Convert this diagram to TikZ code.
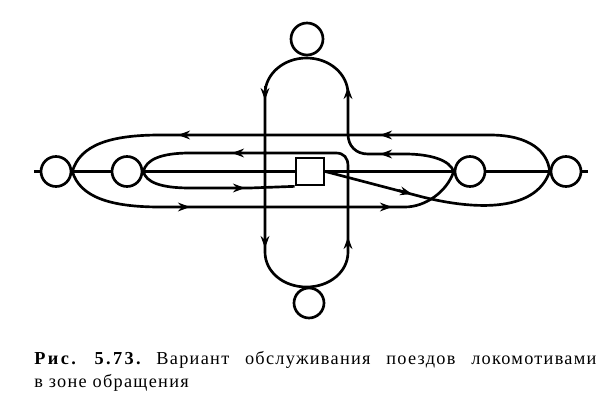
\documentclass[tikz,border=0pt]{standalone}
\usepackage{fontspec}
\setmainfont{Liberation Serif}
\usetikzlibrary{arrows.meta}
\frenchspacing
\begin{document}
\begin{tikzpicture}[x=0.025cm,y=-0.025cm,line width=1.9pt,
  stn/.style={circle,draw,fill=white,minimum size=0.75cm,inner sep=0pt},
  bigstn/.style={stn,minimum size=0.8cm},
  depot/.style={draw,fill=white,minimum width=0.7cm,minimum height=0.675cm,inner sep=0pt},
  arr/.style={-{Stealth[length=0.3cm,width=0.22cm,inset=0.1cm]}},
  caption/.style={anchor=base west,inner sep=0pt,font=\fontsize{13}{15}\selectfont\addfontfeature{LetterSpace=7}}]
\useasboundingbox (0,0) rectangle (600,408);
% stations
\node[stn] (lo) at (56,171.5) {};
\node[stn] (li) at (127,171.5) {};
\node[stn] (ri) at (470,171.5) {};
\node[stn] (ro) at (566,171.5) {};
\node[depot] (sq) at (310,171.5) {};
\node[bigstn] (tc) at (307,39) {};
\node[stn] (bc) at (309,303) {};
\coordinate (w) at (34,171.5);
\coordinate (e) at (588,171.5);
% main line
\draw (w) -- (lo);
\draw (lo) -- (li);
\draw (li) -- (sq);
\draw (sq) -- (ri);
\draw (ri) -- (ro);
\draw (ro) -- (e);
% outer upper: ro -> lo
\draw (ro.west) .. controls (548,152) and (530,135) .. (490,135) -- (160,135)
      .. controls (110,135) and (80,145) .. (lo.east);
% outer lower: lo -> ri
\draw (lo.east) .. controls (80,197) and (110,207) .. (160,207) -- (405,207)
      .. controls (425,207) and (447,192) .. (ri.west);
% ri -> top loop -> bottom loop -> li
\draw (ri.west) .. controls (450,160) and (430,154) .. (405,154) -- (368,154)
      .. controls (356,154) and (348,146) .. (348,134) -- (348,94)
      .. controls (348,74) and (329.4,58) .. (306.5,58)
      .. controls (283.6,58) and (265,74) .. (265,94) -- (265,252)
      .. controls (265,272) and (283.6,287) .. (306.5,287)
      .. controls (329.4,287) and (348,272) .. (348,252) -- (348,166)
      .. controls (348,158) and (344,153) .. (336,153) -- (190,153)
      .. controls (160,153) and (146,160) .. (li.east);
% li -> depot
\draw (li.east) .. controls (146,182) and (160,188) .. (190,188) -- (250,188) -- (sq.south west);
% depot -> ro
\draw (sq.east) -- (415,195) .. controls (470,210) and (535,214) .. (ro.west);
% arrow tips
\draw[arr] (192,135) -- (178,135);
\draw[arr] (394,135) -- (380,135);
\draw[arr] (246,153) -- (232,153);
\draw[arr] (394,154) -- (380,154);
\draw[arr] (231,188) -- (245,188);
\draw[arr] (176,207) -- (190,207);
\draw[arr] (378,207) -- (392,207);
\draw[arr] (398.5,190.4) -- (412,194);
\draw[arr] (265,86) -- (265,100);
\draw[arr] (348,101) -- (348,87);
\draw[arr] (265,234) -- (265,248);
\draw[arr] (348,251) -- (348,237);
% caption
\node[caption] (cap1) at (33,364) {\makebox[14.05cm][s]{{\bfseries\addfontfeature{LetterSpace=13}Рис. 5.73.} Вариант обслуживания поездов локомотивами}};
\node[caption] (cap2) at (33,387) {в зоне обращения};
\end{tikzpicture}
\end{document}
